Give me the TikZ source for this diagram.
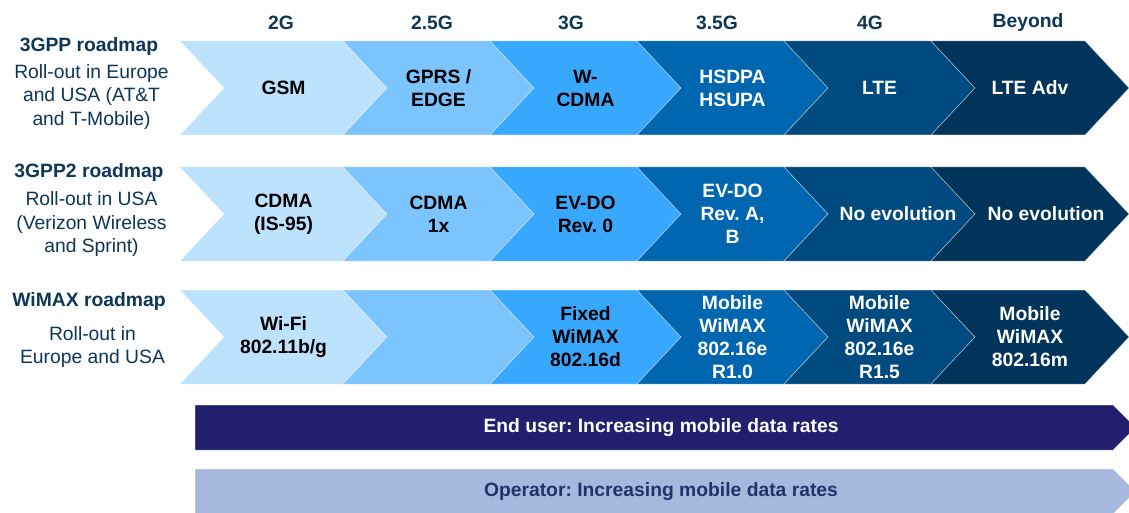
\documentclass[tikz,border=0pt]{standalone}
\usepackage{fontspec}
\setmainfont{Liberation Sans}
\frenchspacing
\definecolor{cA}{HTML}{BDE2FE}
\definecolor{cB}{HTML}{7CC4FD}
\definecolor{cC}{HTML}{38A8FE}
\definecolor{cD}{HTML}{0066B0}
\definecolor{cE}{HTML}{004A80}
\definecolor{cF}{HTML}{00345A}
\definecolor{barDark}{HTML}{221F6E}
\definecolor{barLight}{HTML}{A7B8DF}
\definecolor{navy}{HTML}{0D3658}
\definecolor{optext}{HTML}{1F3468}
\newcommand\chvshape[5]{% x0, x1, ytop, fill, (unused)
  \path[chevfill, fill=#4] (#1,#3) -- (#2,#3) -- ({#2+44},{#3+47}) -- (#2,{#3+94}) -- (#1,{#3+94}) -- ({#1+44},{#3+47}) -- cycle;
}
\newcommand\chv[7]{% name, x0, x1, ytop, fill, text colour, text
  \chvshape{#2}{#3}{#4}{#5}{}
  \node[ctext, text=#6] (#1) at ({(#2+#3)/2+22},{#4+47}) {#7};
}
\begin{document}
\begin{tikzpicture}[x=1pt,y=-1pt,
  chevfill/.style={draw=white, draw opacity=0.55, line width=0.5pt},
  ctext/.style={font=\bfseries\fontsize{19.3}{23}\selectfont, align=center, inner sep=0pt},
  hdr/.style={font=\bfseries\fontsize{19.3}{23}\selectfont, text=navy, inner sep=0pt},
  ltitle/.style={font=\bfseries\fontsize{19.3}{23}\selectfont, text=navy, align=center, inner sep=0pt},
  ldesc/.style={font=\fontsize{19.3}{23.5}\selectfont, text=navy, align=center, inner sep=0pt},
  bartext/.style={font=\bfseries\fontsize{19.3}{23}\selectfont, inner sep=0pt}]
\useasboundingbox (0,0) rectangle (1129,513);
\clip (0,0) rectangle (1129,513);
\fill[white] (0,0) rectangle (1129,513);

% headers
\node[hdr] (h1) at (281,22.5) {2G};
\node[hdr] (h2) at (432,22.5) {2.5G};
\node[hdr] (h3) at (571,22.5) {3G};
\node[hdr] (h4) at (717,22.5) {3.5G};
\node[hdr] (h5) at (870,22.5) {4G};
\node[hdr] (h6) at (1028,22.5) {Beyond};

% left labels
\node[ltitle] (t1) at (89,47) {3GPP roadmap};
\node[ldesc] (d1) at (91.5,97) {Roll-out in Europe\\and USA (AT\&T\\and T-Mobile)};
\node[ltitle] (t2) at (89,173) {3GPP2 roadmap};
\node[ldesc] (d2) at (91.5,224.5) {Roll-out in USA\\(Verizon Wireless\\and Sprint)};
\node[ltitle] (t3) at (89,302) {WiMAX roadmap};
\node[ldesc] (d3) at (92.5,347) {Roll-out in\\Europe and USA};

% row 1
\chv{a1}{180}{343}{41}{cA}{black}{GSM}
\chv{a2}{343}{490}{41}{cB}{black}{GPRS /\\EDGE}
\chv{a3}{490}{637}{41}{cC}{black}{W-\\CDMA}
\chv{a4}{637}{784}{41}{cD}{white}{HSDPA\\HSUPA}
\chv{a5}{784}{931}{41}{cE}{white}{LTE}
\chv{a6}{931}{1085}{41}{cF}{white}{LTE Adv}

% row 2
\chv{b1}{180}{343}{167}{cA}{black}{CDMA\\(IS-95)}
\chv{b2}{343}{490}{167}{cB}{black}{CDMA\\1x}
\chv{b3}{490}{637}{167}{cC}{black}{EV-DO\\Rev. 0}
\chv{b4}{637}{784}{167}{cD}{white}{EV-DO\\Rev. A,\\B}
\chvshape{784}{931}{167}{cE}{}
\node[ctext, text=white] (b5) at (898,214) {No evolution};
\chvshape{931}{1085}{167}{cF}{}
\node[ctext, text=white] (b6) at (1046,214) {No evolution};

% row 3
\chv{c1}{180}{343}{290}{cA}{black}{Wi-Fi\\802.11b/g}
\chvshape{343}{490}{290}{cB}{}
\chv{c3}{490}{637}{290}{cC}{black}{Fixed\\WiMAX\\802.16d}
\chv{c4}{637}{784}{290}{cD}{white}{Mobile\\WiMAX\\802.16e\\R1.0}
\chv{c5}{784}{931}{290}{cE}{white}{Mobile\\WiMAX\\802.16e\\R1.5}
\chv{c6}{931}{1085}{290}{cF}{white}{Mobile\\WiMAX\\802.16m}

% bottom bars
\path[chevfill, fill=barDark] (195,405) -- (1113,405) -- (1135.5,427.5) -- (1113,450) -- (195,450) -- cycle;
\node[bartext, text=white] (e1) at (661,428) {End user: Increasing mobile data rates};
\path[chevfill, fill=barLight] (195,469) -- (1113,469) -- (1135.5,491.5) -- (1113,514) -- (195,514) -- cycle;
\node[bartext, text=optext] (e2) at (661,492) {Operator: Increasing mobile data rates};
\end{tikzpicture}
\end{document}
